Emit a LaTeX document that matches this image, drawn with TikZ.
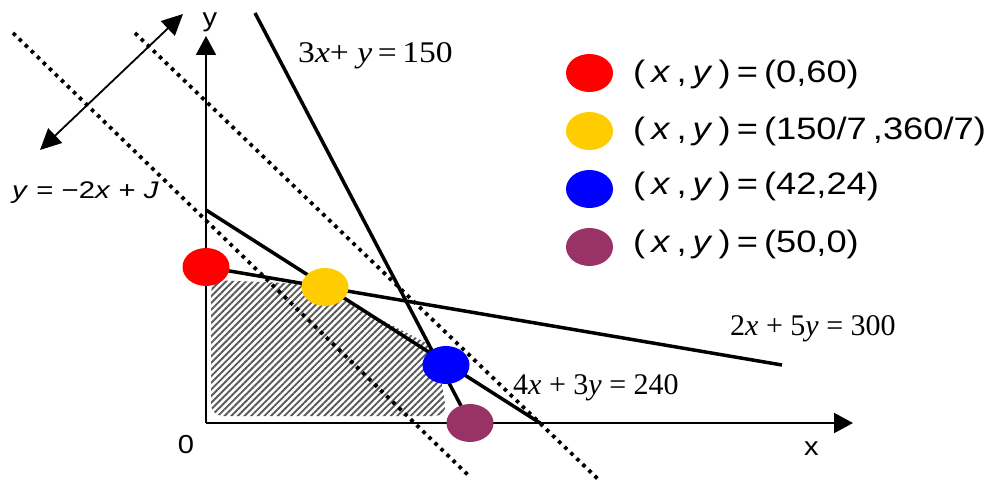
\documentclass[tikz,border=0pt]{standalone}
\usepackage{fontspec}
\usepackage{graphicx}
\setmainfont{Liberation Sans}
\newfontfamily\tms{Liberation Serif}
\usetikzlibrary{arrows.meta,shapes.geometric,patterns.meta}
\definecolor{ptred}{HTML}{FF0000}
\definecolor{ptyellow}{HTML}{FFCC00}
\definecolor{ptblue}{HTML}{0000FF}
\definecolor{ptpurple}{HTML}{993366}
\begin{document}
\begin{tikzpicture}[x=1pt,y=-1pt,
  axisline/.style={line width=2pt,-{Triangle[length=19pt,width=20pt]}},
  cons/.style={line width=3.5pt},
  objline/.style={line width=3.8pt,dash pattern=on 3.6pt off 4.8pt},
  dirarrow/.style={line width=1.8pt,{Triangle[length=21pt,width=20pt]}-{Triangle[length=21pt,width=20pt]}},
  vertex/.style={ellipse,minimum width=47pt,minimum height=38pt,inner sep=0pt},
  eqlbl/.style={font=\tms\fontsize{30}{30}\selectfont,inner sep=0pt,anchor=base west},
  leg/.style={font=\fontsize{31}{31}\selectfont,inner sep=0pt,anchor=base west},
  axlbl/.style={font=\fontsize{26}{26}\selectfont,inner sep=0pt}]
\useasboundingbox (0,0) rectangle (995,481);
% feasible region
\fill[pattern={Lines[angle=45,distance=4.7pt,line width=1.9pt]},pattern color=black!65,rounded corners=12pt]
  (211,280) -- (312,284) -- (436,348) -- (447,416) -- (211,416) -- cycle;
% coordinates
\coordinate (O) at (206,423);
\coordinate (ytip) at (206,36);
\coordinate (xtip) at (853,423);
\coordinate (a1) at (206,210);
\coordinate (a2) at (540,423);
\coordinate (b1) at (206,267);
\coordinate (b2) at (782,365);
\coordinate (c1) at (255,13);
\coordinate (c2) at (470,423);
\coordinate (d1) at (13,33);
\coordinate (d2) at (468,475);
\coordinate (e1) at (135,33);
\coordinate (e2) at (600,481);
\coordinate (f1) at (40,150);
\coordinate (f2) at (183,14);
% objective lines
\draw[objline] (d1) -- (d2);
\draw[objline] (e1) -- (e2);
% constraints
\draw[cons] (a1) -- (a2);
\draw[cons] (b1) -- (b2);
\draw[cons] (c1) -- (c2);
% axes
\draw[axisline] (O) -- (ytip);
\draw[axisline] (O) -- (xtip);
% direction arrow
\draw[dirarrow] (f1) -- (f2);
% vertices
\node[vertex,fill=ptred] (P1) at (206,267) {};
\node[vertex,fill=ptyellow] (P2) at (325,287) {};
\node[vertex,fill=ptblue] (P3) at (446,365) {};
\node[vertex,fill=ptpurple] (P4) at (470,423) {};
% legend
\node[vertex,fill=ptred] (L1) at (589.5,73) {};
\node[vertex,fill=ptyellow] (L2) at (589.5,131) {};
\node[vertex,fill=ptblue] (L3) at (589.5,189) {};
\node[vertex,fill=ptpurple] (L4) at (589.5,247) {};
\node[leg] (T1) at (633,83) {\scalebox{1.17}[1]{(\,\textit{x}\,,\,\textit{y}\,)\,=\,(0,60)}};
\node[leg] (T2) at (633,140) {\scalebox{1.17}[1]{(\,\textit{x}\,,\,\textit{y}\,)\,=\,(150/7\,,360/7)}};
\node[leg] (T3) at (633,194) {\scalebox{1.17}[1]{(\,\textit{x}\,,\,\textit{y}\,)\,=\,(42,24)}};
\node[leg] (T4) at (633,252) {\scalebox{1.17}[1]{(\,\textit{x}\,,\,\textit{y}\,)\,=\,(50,0)}};
% equation labels
\node[eqlbl] (E1) at (298,63) {\scalebox{1.12}[1]{3\textit{x}+ \textit{y}\,=\,150}};
\node[eqlbl] (E2) at (730,335) {2\textit{x}\hspace{0.25em}+\hspace{0.25em}5\textit{y}\hspace{0.25em}=\hspace{0.25em}300};
\node[eqlbl] (E3) at (513,394) {4\textit{x}\hspace{0.25em}+\hspace{0.25em}3\textit{y}\hspace{0.25em}=\hspace{0.25em}240};
\node[font=\fontsize{24}{24}\selectfont,inner sep=0pt,anchor=base west] (E4) at (12,199) {\scalebox{1.22}[1]{\textit{y} = −2\textit{x} + \textit{J}}};
% axis labels
\node[axlbl] (ylab) at (210,22) {\scalebox{1.12}[1]{y}};
\node[axlbl] (xlab) at (811.5,448.5) {\scalebox{1.12}[1]{x}};
\node[axlbl] (zlab) at (186,445) {\scalebox{1.12}[1]{0}};
\end{tikzpicture}
\end{document}
